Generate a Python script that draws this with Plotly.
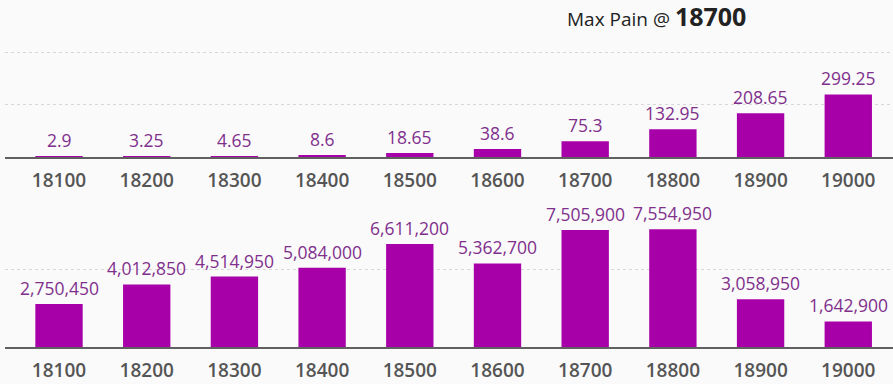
import plotly.graph_objects as go

strikes = ["18100", "18200", "18300", "18400", "18500", "18600", "18700", "18800", "18900", "19000"]
pain_values = [2.9, 3.25, 4.65, 8.6, 18.65, 38.6, 75.3, 132.95, 208.65, 299.25]
oi_values = [2750450, 4012850, 4514950, 5084000, 6611200, 5362700, 7505900, 7554950, 3058950, 1642900]
max_pain_strike = "18700"

BAR = "#a800a8"
LABEL = "#80308c"
AXIS = "#606060"
FONT = "Open Sans"

fig = go.Figure()
fig.add_trace(go.Bar(
    x=strikes, y=pain_values, xaxis="x", yaxis="y",
    marker=dict(color=BAR, line=dict(width=0)), width=0.54,
))
fig.add_trace(go.Bar(
    x=strikes, y=oi_values, xaxis="x2", yaxis="y2",
    marker=dict(color=BAR, line=dict(width=0)), width=0.54,
))

annotations = []
for i, v in enumerate(pain_values):
    annotations.append(dict(x=i, y=v, xref="x", yref="y", text=f"{v:g}", showarrow=False,
                            yanchor="middle", yshift=16,
                            font=dict(family=FONT, size=17.5, color=LABEL)))
for i, v in enumerate(oi_values):
    annotations.append(dict(x=i, y=v, xref="x2", yref="y2", text=f"{v:,}", showarrow=False,
                            yanchor="middle", yshift=16,
                            font=dict(family=FONT, size=17.5, color=LABEL)))

H = 384.0
def yf(px):
    return (H - px) / H

annotations.append(dict(
    text=f"Max Pain @ <b style='font-size:25px'>{max_pain_strike}</b>",
    xref="paper", yref="paper", x=651 / 888, y=yf(16), xanchor="center", yanchor="middle",
    showarrow=False, font=dict(family=FONT, size=19, color="#222222"),
))

xcommon = dict(
    type="category", range=[-0.616, 9.51], showgrid=False,
    showline=True, linecolor=AXIS, linewidth=2,
    ticks="", ticklabelstandoff=5,
    tickfont=dict(family=FONT, size=19, color="#555555", weight=600),
    fixedrange=True,
)
fig.update_layout(
    width=893, height=384,
    margin=dict(l=5, r=0, t=0, b=0),
    paper_bgcolor="#fafafa", plot_bgcolor="#fafafa",
    showlegend=False,
    xaxis=dict(domain=[0, 1], anchor="y", **xcommon),
    xaxis2=dict(domain=[0, 1], anchor="y2", **xcommon),
    yaxis=dict(domain=[yf(157), yf(42)], range=[0, 550], dtick=250,
               showgrid=True, gridcolor="#d8d8d8", griddash="dot", gridwidth=1,
               showticklabels=False, zeroline=False, showline=False),
    yaxis2=dict(domain=[yf(347), yf(202)], range=[0, 9300000], dtick=5000000,
                showgrid=True, gridcolor="#d8d8d8", griddash="dot", gridwidth=1,
                showticklabels=False, zeroline=False, showline=False),
    annotations=annotations,
)

fig.write_html("out.html", config={"displayModeBar": False},
               post_script="document.body.style.margin='0';document.body.style.background='#fafafa';")
